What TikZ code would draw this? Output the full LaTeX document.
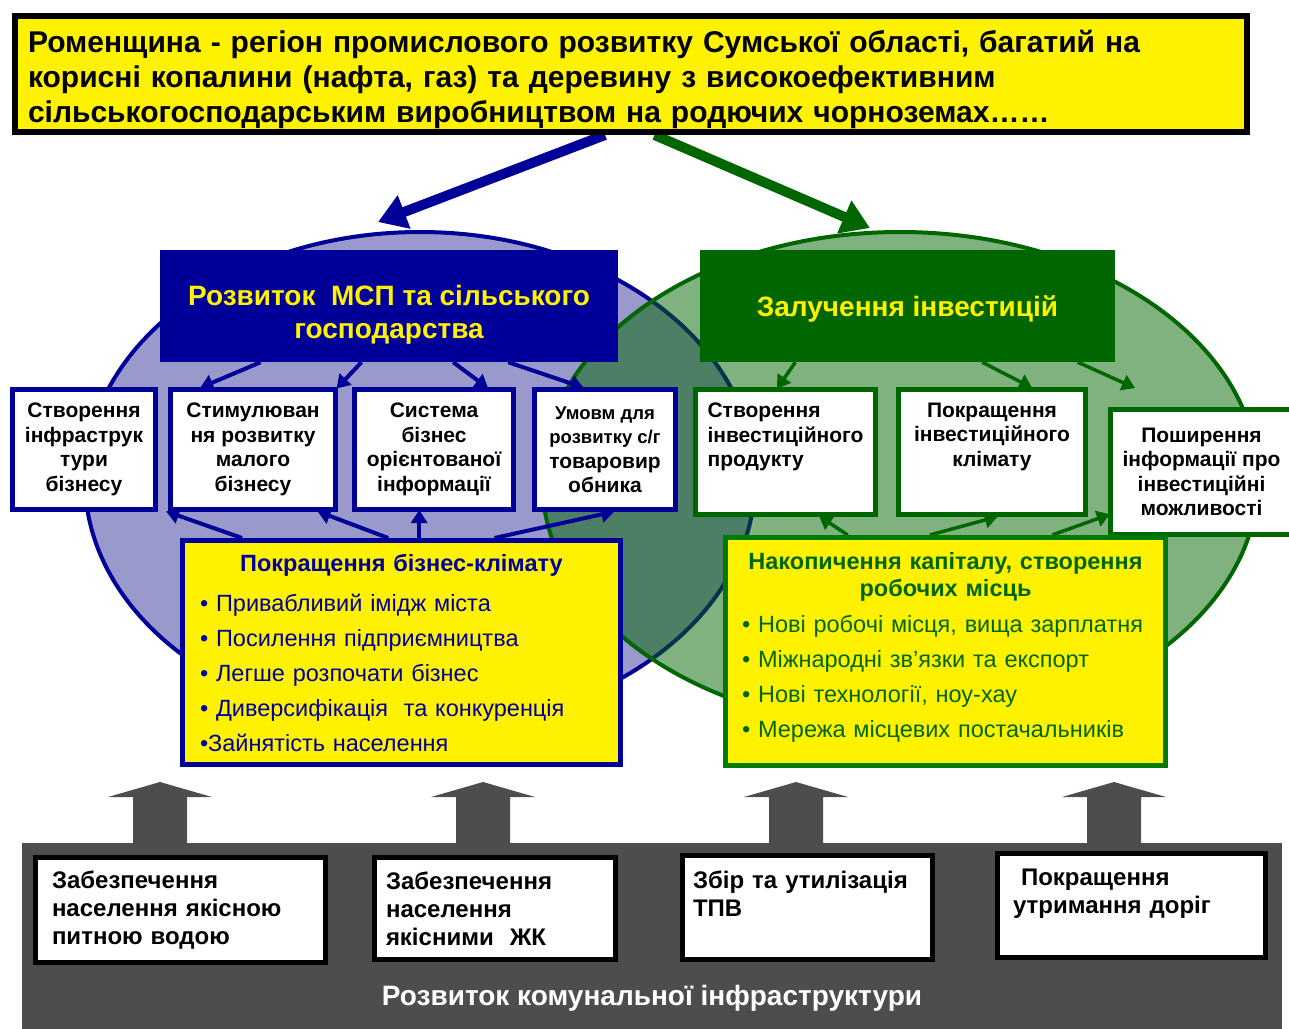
\documentclass[tikz,border=0pt]{standalone}
\usepackage{fontspec}
\setmainfont{Liberation Sans}
\usetikzlibrary{arrows.meta,calc,backgrounds}
\definecolor{regionnavy}{HTML}{000099}
\definecolor{regiongreen}{HTML}{006600}
\definecolor{regionframe}{HTML}{007A00}
\definecolor{regionlilac}{HTML}{9999CC}
\definecolor{regiongray}{HTML}{4D4D4D}
\newcommand{\cellfont}{\fontsize{21}{24.5}\selectfont\bfseries}
\newcommand{\smallcellfont}{\fontsize{18.5}{22.5}\selectfont\bfseries}

\begin{document}
\begin{tikzpicture}[x=1pt,y=-1pt,
  regionbox/.style={draw=black,line width=6pt,fill=yellow,
    minimum width=1232pt,minimum height=116pt,inner sep=0pt},
  regiontext/.style={text width=1206pt,align=left,inner sep=0pt,
    font=\fontsize{30}{35}\selectfont\bfseries},
  headbox/.style={minimum height=112pt,minimum width=#1,inner sep=0pt},
  headtitle/.style={text=yellow,align=center,inner sep=0pt,
    font=\fontsize{28}{33}\selectfont\bfseries},
  cellbox/.style={line width=5pt,fill=white,inner sep=0pt,
    align=center,font=\cellfont},
  listbox/.style={line width=5pt,fill=yellow,inner sep=0pt,
    align=left,font=\fontsize{23.5}{35}\selectfont},
  utilbox/.style={draw=black,line width=5pt,fill=white,inner sep=0pt,
    align=left,font=\fontsize{24}{28}\selectfont\bfseries},
  blueflow/.style={-{Triangle[length=13pt,width=16pt]},line width=4pt,
    regionnavy,shorten >=-2pt},
  greenflow/.style={-{Triangle[length=13pt,width=16pt]},line width=3.5pt,
    regiongreen,shorten >=-2pt},
  bigflow/.style={-{Triangle[length=28pt,width=34pt]},line width=10pt}
]
  \useasboundingbox (0,0) rectangle (1289,1028);

  % top statement
  \node[regionbox] (region) at (631,74) {};
  \node[regiontext] (regiontext) at (631,79)
    {Роменщина - регіон промислового розвитку Сумської області, багатий на\\
     корисні копалини (нафта, газ) та деревину з високоефективним\\
     сільськогосподарським виробництвом на родючих чорноземах……};

  % two directions
  \node[headbox=458pt,fill=regionnavy] (sme) at (389,306) {};
  \node[headtitle] (smetitle) at (389,315)
    {Розвиток\ \ МСП та сільського\\господарства};
  \node[headbox=415pt,fill=regiongreen] (invest) at (907.5,306) {};
  \node[headtitle] (investtitle) at (907.5,309) {Залучення інвестицій};

  \node[cellbox,draw=regionnavy,minimum width=143pt,minimum height=120pt]
    (infra) at (84,449.5) {Створення\\інфраструк\\тури\\бізнесу};
  \node[cellbox,draw=regionnavy,minimum width=165pt,minimum height=120pt]
    (stim) at (253,449.5) {Стимулюван\\ня розвитку\\малого\\бізнесу};
  \node[cellbox,draw=regionnavy,minimum width=159pt,minimum height=120pt]
    (sys) at (434,449.5) {Система\\бізнес\\орієнтованої\\інформації};
  \node[cellbox,draw=regionnavy,minimum width=141pt,minimum height=120pt]
    (agro) at (605,449.5)
    {\smallcellfont Умовм для\\\smallcellfont розвитку с/г\\товаровир\\обника};

  \node[cellbox,draw=regiongreen,minimum width=180pt,minimum height=125pt,
    align=left] (product) at (785.5,452)
    {Створення\\інвестиційного\\продукту\\[10pt]~};
  \node[cellbox,draw=regiongreen,minimum width=187pt,minimum height=125pt]
    (investclim) at (992,452) {Покращення\\інвестиційного\\клімату\\[10pt]~};
  \node[cellbox,draw=regiongreen,minimum width=182pt,minimum height=125pt]
    (spread) at (1201.5,472)
    {Поширення\\інформації про\\інвестиційні\\можливості};

  % yellow lists
  \node[listbox,draw=regionnavy,text=regionnavy,minimum width=438pt,
    minimum height=224pt,text width=403pt] (climate) at (401.5,652.5)
    {{\centering\bfseries Покращення бізнес-клімату\par}\vspace{5pt}
     • Привабливий імідж міста\par
     • Посилення підприємництва\par
     • Легше розпочати бізнес\par
     • Диверсифікація\ \ та конкуренція\par
     •Зайнятість населення};
  \node[listbox,draw=regionframe,text=regiongreen,minimum width=440pt,
    minimum height=228pt,text width=407pt] (capital) at (945.5,651.5)
    {{\centering\bfseries\fontsize{23.5}{27}\selectfont
      Накопичення капіталу, створення\par робочих місць\par}\vspace{1pt}
     • Нові робочі місця, вища зарплатня\par
     • Міжнародні зв'язки та експорт\par
     • Нові технології, ноу-хау\par
     • Мережа місцевих постачальників\par\vspace{9pt}};

  % communal infrastructure
  \node[fill=regiongray,minimum width=1260pt,minimum height=190pt,
    inner sep=0pt] (panel) at (652,938) {};
  \foreach \ax in {160,483,796,1114}
    \fill[regiongray] (\ax-27,845) -- (\ax-27,797) -- (\ax-52,797)
      -- (\ax,782) -- (\ax+52,797) -- (\ax+27,797) -- (\ax+27,845) -- cycle;
  \node[utilbox,minimum width=290pt,minimum height=105pt,text width=257pt]
    (water) at (180.5,910)
    {Забезпечення\\населення якісною\\питною водою};
  \node[utilbox,minimum width=241pt,minimum height=102pt,text width=218pt]
    (housing) at (495,908.5)
    {Забезпечення\\населення\\якісними\ \ ЖК};
  \node[utilbox,minimum width=250pt,minimum height=104pt,text width=229pt]
    (waste) at (807.5,907.5)
    {Збір та утилізація\\ТПВ\\~};
  \node[utilbox,minimum width=268pt,minimum height=104pt,text width=237pt]
    (roads) at (1131.5,905.5)
    {\ Покращення\\утримання доріг\\~};
  \node[text=white,font=\fontsize{28}{32}\selectfont\bfseries]
    (paneltitle) at (652,998) {Розвиток комунальної інфраструктури};

  \coordinate (smetip) at (378,222);
  \coordinate (investtip) at (870,228);
  \coordinate (spreadtip) at (1135,388);
  \coordinate (climup) at ($(climate.north west)!0.54!(climate.north east)$);

  \begin{scope}[on background layer]
    \draw[fill=regionlilac,draw=regionnavy,line width=4pt]
      (420,480) ellipse [x radius=335,y radius=248];
    \draw[fill=regiongreen,fill opacity=0.5,draw=regiongreen,line width=4pt]
      (900,480) ellipse [x radius=358,y radius=248];

    \draw[bigflow,regionnavy]
      ($(region.south west)!0.479!(region.south east)$) -- (smetip);
    \draw[bigflow,regiongreen]
      ($(region.south west)!0.519!(region.south east)$) -- (investtip);

    \draw[blueflow] ($(sme.south west)!0.22!(sme.south east)$)
      -- ($(stim.north west)!0.2!(stim.north east)$);
    \draw[blueflow] ($(sme.south west)!0.44!(sme.south east)$)
      -- (stim.north east);
    \draw[blueflow] ($(sme.south west)!0.64!(sme.south east)$)
      -- ($(sys.north west)!0.82!(sys.north east)$);
    \draw[blueflow] ($(sme.south west)!0.76!(sme.south east)$)
      -- ($(agro.north west)!0.34!(agro.north east)$);
    \draw[greenflow] ($(invest.south west)!0.23!(invest.south east)$)
      -- ($(product.north west)!0.46!(product.north east)$);
    \draw[greenflow] ($(invest.south west)!0.68!(invest.south east)$)
      -- ($(investclim.north west)!0.7!(investclim.north east)$);
    \draw[greenflow,shorten >=0pt] ($(invest.south west)!0.91!(invest.south east)$)
      -- (spreadtip);

    \draw[blueflow] ($(climate.north west)!0.14!(climate.north east)$)
      -- (stim.south west);
    \draw[blueflow] ($(climate.north west)!0.47!(climate.north east)$)
      -- ($(stim.south west)!0.89!(stim.south east)$);
    \draw[blueflow] (climup) -- (climup |- sys.south);
    \draw[blueflow] ($(climate.north west)!0.71!(climate.north east)$)
      -- ($(agro.south west)!0.55!(agro.south east)$);
    \draw[greenflow] ($(capital.north west)!0.28!(capital.north east)$)
      -- ($(product.south west)!0.69!(product.south east)$);
    \draw[greenflow] ($(capital.north west)!0.465!(capital.north east)$)
      -- ($(investclim.south west)!0.52!(investclim.south east)$);
    \draw[greenflow] ($(capital.north west)!0.74!(capital.north east)$)
      -- ($(spread.south west)!0.17!(spread.north west)$);
  \end{scope}
\end{tikzpicture}
\end{document}
